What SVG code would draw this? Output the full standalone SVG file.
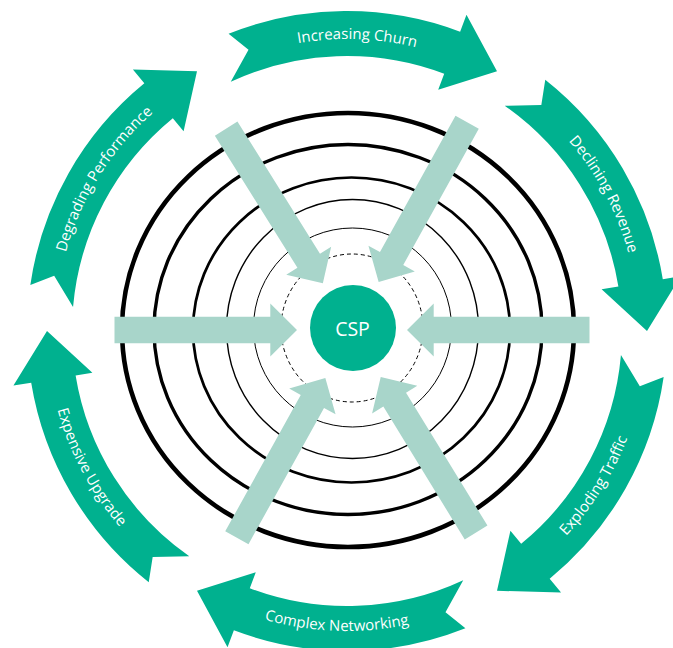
<svg xmlns="http://www.w3.org/2000/svg" xmlns:xlink="http://www.w3.org/1999/xlink" width="673" height="648" viewBox="0 0 673 648">
<style>
.ring{fill:none;stroke:#000}
.g{fill:#00B18F}
.lt{fill:#A8D5CA}
.lbl{font-family:"Open Sans","Noto Sans","Liberation Sans",sans-serif;font-size:15px;fill:#fff}
</style>
<defs>
<path id="garrow" d="M647 331 L680.56 276.38 L662.80 279.29 A320 320 0 0 0 545.26 79.81 L541.33 105.08 L504.73 105.73 A275 275 0 0 1 618.39 286.56 L601.61 289.31 Z"/>
<path id="cwArc" d="M456.39 60.26 A292 292 0 0 1 632.62 391.71" fill="none"/>
<path id="ccwArc" d="M640.45 393.37 A300 300 0 0 0 459.38 52.85" fill="none"/>
<polygon id="larrow" points="589.5,316.7 433.7,316.7 433.7,303.5 407,330 433.7,356.5 433.7,343.3 589.5,343.3"/>
</defs>
<rect width="673" height="648" fill="#fff"/>
<g id="rings">
<ellipse class="ring" cx="348" cy="330" rx="226" ry="217" stroke-width="4.6"/>
<ellipse class="ring" cx="348" cy="329.5" rx="194" ry="185" stroke-width="3.4"/>
<ellipse class="ring" cx="351.5" cy="330" rx="158.5" ry="152.5" stroke-width="2.7"/>
<ellipse class="ring" cx="352.5" cy="329" rx="126" ry="129.5" stroke-width="1.4"/>
<ellipse class="ring" cx="352.5" cy="327.5" rx="99" ry="99.5" stroke-width="1"/>
<ellipse class="ring" cx="352" cy="328" rx="71" ry="74" stroke-width="1" stroke-dasharray="4 3"/>
</g>
<g id="connectors" class="lt">
<use xlink:href="#larrow" href="#larrow"/>
<use xlink:href="#larrow" href="#larrow" transform="rotate(180 352 330)"/>
<use xlink:href="#larrow" href="#larrow" transform="rotate(-122 352 330)"/>
<use xlink:href="#larrow" href="#larrow" transform="rotate(-61 352 330)"/>
<use xlink:href="#larrow" href="#larrow" transform="rotate(119 352 330)"/>
<use xlink:href="#larrow" href="#larrow" transform="rotate(58.5 352 330)"/>
</g>
<g id="csp">
<circle cx="353" cy="328" r="43" class="g"/>
<text x="352.5" y="336" text-anchor="middle" font-family="Open Sans, Noto Sans, Liberation Sans, sans-serif" font-size="19.5" fill="#fff">CSP</text>
</g>
<g id="increasing-churn" transform="rotate(-60 347 331)">
<use xlink:href="#garrow" href="#garrow" class="g"/>
<text class="lbl"><textPath xlink:href="#cwArc" href="#cwArc" startOffset="50%" text-anchor="middle">Increasing Churn</textPath></text>
</g>
<g id="declining-revenue">
<use xlink:href="#garrow" href="#garrow" class="g"/>
<text class="lbl"><textPath xlink:href="#cwArc" href="#cwArc" startOffset="50%" text-anchor="middle">Declining Revenue</textPath></text>
</g>
<g id="exploding-traffic" transform="rotate(60 347 331)">
<use xlink:href="#garrow" href="#garrow" class="g"/>
<text class="lbl"><textPath xlink:href="#ccwArc" href="#ccwArc" startOffset="50%" text-anchor="middle">Exploding Traffic</textPath></text>
</g>
<g id="complex-networking" transform="rotate(120 347 331)">
<use xlink:href="#garrow" href="#garrow" class="g"/>
<text class="lbl"><textPath xlink:href="#ccwArc" href="#ccwArc" startOffset="50%" text-anchor="middle">Complex Networking</textPath></text>
</g>
<g id="expensive-upgrade" transform="rotate(180 347 331)">
<use xlink:href="#garrow" href="#garrow" class="g"/>
<text class="lbl"><textPath xlink:href="#ccwArc" href="#ccwArc" startOffset="50%" text-anchor="middle">Expensive Upgrade</textPath></text>
</g>
<g id="degrading-performance" transform="rotate(240 347 331)">
<use xlink:href="#garrow" href="#garrow" class="g"/>
<text class="lbl"><textPath xlink:href="#cwArc" href="#cwArc" startOffset="50%" text-anchor="middle">Degrading Performance</textPath></text>
</g>
</svg>
